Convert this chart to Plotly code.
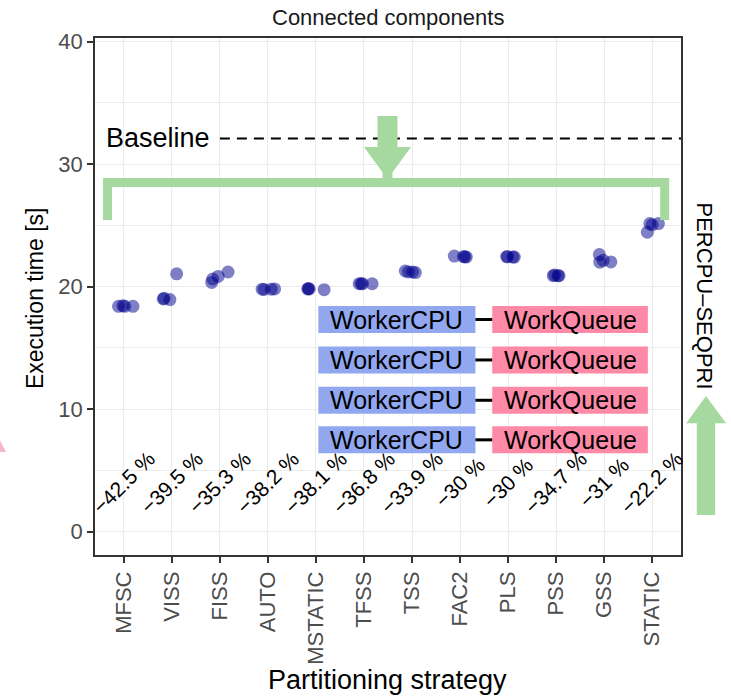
import plotly.graph_objects as go

# ---------------- data ----------------
categories = ["MFSC", "VISS", "FISS", "AUTO", "MSTATIC", "TFSS",
              "TSS", "FAC2", "PLS", "PSS", "GSS", "STATIC"]

# repeated measurements (execution time, s) per strategy
times = {
    "MFSC":    [18.40, 18.45, 18.40, 18.40],
    "VISS":    [19.00, 19.05, 18.95, 21.05],
    "FISS":    [20.35, 20.63, 20.84, 21.20],
    "AUTO":    [19.80, 19.78, 19.80, 19.82],
    "MSTATIC": [19.82, 19.85, 19.82, 19.76],
    "TFSS":    [20.25, 20.25, 20.25, 20.24],
    "TSS":     [21.28, 21.20, 21.20, 21.15],
    "FAC2":    [22.50, 22.45, 22.45, 22.42],
    "PLS":     [22.45, 22.45, 22.42, 22.42],
    "PSS":     [20.90, 20.95, 20.90, 20.90],
    "GSS":     [22.62, 22.00, 22.15, 22.02],
    "STATIC":  [24.45, 25.15, 25.05, 25.15],
}
# horizontal jitter (category units)
jitter = {
    "MFSC":    [-0.11, -0.02, 0.02, 0.19],
    "VISS":    [-0.18, -0.16, -0.04, 0.10],
    "FISS":    [-0.17, -0.15, -0.035, 0.17],
    "AUTO":    [-0.12, -0.08, 0.07, 0.14],
    "MSTATIC": [-0.17, -0.16, -0.14, 0.17],
    "TFSS":    [-0.10, -0.06, -0.03, 0.17],
    "TSS":     [-0.14, -0.075, 0.01, 0.07],
    "FAC2":    [-0.12, 0.07, 0.10, 0.13],
    "PLS":     [-0.03, -0.01, 0.10, 0.13],
    "PSS":     [-0.06, -0.03, 0.04, 0.06],
    "GSS":     [-0.10, -0.09, -0.02, 0.14],
    "STATIC":  [-0.10, -0.05, 0.00, 0.13],
}
improvement = [-42.5, -39.5, -35.3, -38.2, -38.1, -36.8,
               -33.9, -30, -30, -34.7, -31, -22.2]
baseline = 32.1
y_ticks = [0, 10, 20, 30, 40]
legend_left = ["WorkerCPU", "WorkerCPU", "WorkerCPU", "WorkerCPU"]
legend_right = ["WorkQueue", "WorkQueue", "WorkQueue", "WorkQueue"]

# ---------------- style ----------------
FONT = "Liberation Sans, Arial, sans-serif"
GREEN = "#A6D9A0"
BLUE_BOX = "#91A8F1"
PINK_BOX = "#FF8AA8"
GRID = "#EBEBEB"
AXIS = "#333333"

L, R, T, B = 95, 49.5, 38, 143
W, H = 731, 698
PW, PH = W - L - R, H - T - B


def px(x):
    return (x - L) / PW


def py(y):
    return (H - B - y) / PH


xs, ys = [], []
for i, c in enumerate(categories):
    for j, v in zip(jitter[c], times[c]):
        xs.append(i + j)
        ys.append(v)

fig = go.Figure()
fig.add_trace(go.Scatter(
    x=xs, y=ys, mode="markers",
    marker=dict(size=13, color="rgba(0,0,139,0.5)", line=dict(width=0)),
    showlegend=False, hoverinfo="x+y",
))

shapes = []
annotations = []

# baseline
shapes.append(dict(type="line", xref="x", yref="y", x0=2.0, x1=11.6,
                   y0=baseline, y1=baseline,
                   line=dict(color="black", width=2, dash="10px,7px")))
annotations.append(dict(x=1.83, y=baseline, xref="x", yref="y", text="Baseline",
                        showarrow=False, xanchor="right", yanchor="middle",
                        font=dict(size=27, color="black", family=FONT)))

# green bracket
shapes.append(dict(type="path", xref="x", yref="y",
                   path="M -0.34,25.45 L -0.34,28.5 L 11.26,28.5 L 11.26,25.45",
                   line=dict(color=GREEN, width=9), fillcolor="rgba(0,0,0,0)"))

# down arrow onto bracket
cx = 5.49
sw, hw, tw = 0.208, 0.49, 0.104
arrow = (f"M {cx-sw},33.93 L {cx+sw},33.93 L {cx+sw},31.4 L {cx+hw},31.4 "
         f"L {cx+tw},29.35 L {cx+tw},28.2 L {cx-tw},28.2 L {cx-tw},29.35 "
         f"L {cx-hw},31.4 L {cx-sw},31.4 Z")
shapes.append(dict(type="path", xref="x", yref="y", path=arrow,
                   fillcolor=GREEN, line=dict(width=0)))

# right up arrow (outside panel)
up = (f"M {px(697.3)},{py(515)} L {px(715.7)},{py(515)} L {px(715.7)},{py(423.3)} "
      f"L {px(726.7)},{py(423.3)} L {px(706.5)},{py(396)} L {px(686.7)},{py(423.3)} "
      f"L {px(697.3)},{py(423.3)} Z")
shapes.append(dict(type="path", xref="paper", yref="paper", path=up,
                   fillcolor=GREEN, line=dict(width=0)))

# small pink arrow tip at the far left
pink = f"M {px(-2)},{py(437)} L {px(6)},{py(452)} L {px(-2)},{py(452)} Z"
shapes.append(dict(type="path", xref="paper", yref="paper", path=pink,
                   fillcolor="#F5B8C4", line=dict(width=0)))

# WorkerCPU -> WorkQueue boxes
row_y = [17.32, 14.02, 10.73, 7.50]
for yv, lt, rt in zip(row_y, legend_left, legend_right):
    shapes.append(dict(type="rect", xref="x", yref="y", x0=4.05, x1=7.32,
                       y0=yv - 1.1, y1=yv + 1.1, fillcolor=BLUE_BOX, line=dict(width=0)))
    shapes.append(dict(type="rect", xref="x", yref="y", x0=7.67, x1=10.91,
                       y0=yv - 1.1, y1=yv + 1.1, fillcolor=PINK_BOX, line=dict(width=0)))
    shapes.append(dict(type="line", xref="x", yref="y", x0=7.32, x1=7.67,
                       y0=yv, y1=yv, line=dict(color="black", width=3)))
    annotations.append(dict(x=(4.05 + 7.32) / 2, y=yv, xref="x", yref="y", text=lt,
                            showarrow=False, xanchor="center", yanchor="middle",
                            font=dict(size=25, color="black", family=FONT)))
    annotations.append(dict(x=(7.67 + 10.91) / 2, y=yv, xref="x", yref="y", text=rt,
                            showarrow=False, xanchor="center", yanchor="middle",
                            font=dict(size=25, color="black", family=FONT)))

# improvement labels
for i, v in enumerate(improvement):
    s = f"{v:g}".replace("-", "\u2212") + " %"
    annotations.append(dict(x=i, y=4.0, xref="x", yref="y", text=s, textangle=-45,
                            showarrow=False, xanchor="center", yanchor="middle",
                            font=dict(size=21, color="black", family=FONT)))

# right side label
annotations.append(dict(x=px(706), y=py(296), xref="paper", yref="paper",
                        text="PERCPU\u2013SEQPRI", textangle=90, showarrow=False,
                        xanchor="center", yanchor="middle",
                        font=dict(size=22, color="black", family=FONT)))
# title
annotations.append(dict(x=px(388), y=py(17), xref="paper", yref="paper",
                        text="Connected components", showarrow=False,
                        xanchor="center", yanchor="middle",
                        font=dict(size=22, color="#1a1a1a", family=FONT)))
# x axis title
annotations.append(dict(x=px(388), y=py(680), xref="paper", yref="paper",
                        text="Partitioning strategy", showarrow=False,
                        xanchor="center", yanchor="middle",
                        font=dict(size=27, color="black", family=FONT)))
# y axis title
annotations.append(dict(x=px(35), y=py(298), xref="paper", yref="paper",
                        text="Execution time [s]", textangle=-90, showarrow=False,
                        xanchor="center", yanchor="middle",
                        font=dict(size=23, color="black", family=FONT)))

fig.update_layout(
    width=W, height=H,
    margin=dict(l=L, r=R, t=T, b=B),
    plot_bgcolor="white", paper_bgcolor="white",
    shapes=shapes, annotations=annotations,
    font=dict(family=FONT),
    xaxis=dict(
        range=[-0.6, 11.6], tickmode="array", tickvals=list(range(len(categories))),
        ticktext=categories, tickangle=-90, showgrid=True, gridcolor=GRID, gridwidth=1.2,
        zeroline=False, showline=True, linecolor=AXIS, linewidth=1.5, mirror=True,
        ticks="outside", ticklen=6, tickcolor=AXIS, tickwidth=1.5,
        tickfont=dict(size=22, color="#4D4D4D", family=FONT), automargin=False,
    ),
    yaxis=dict(
        range=[-1.9, 40.3], tickmode="array", tickvals=y_ticks,
        showgrid=True, gridcolor=GRID, gridwidth=1.2,
        minor=dict(tickvals=[5, 15, 25, 35], showgrid=True, gridcolor=GRID,
                   gridwidth=1.0, ticks=""),
        zeroline=False, showline=True, linecolor=AXIS, linewidth=1.5, mirror=True,
        ticks="outside", ticklen=6, tickcolor=AXIS, tickwidth=1.5,
        tickfont=dict(size=22, color="#4D4D4D", family=FONT), automargin=False,
    ),
)

fig.write_html("out.html", config={"displayModeBar": False},
               post_script="document.body.style.margin='0';")
